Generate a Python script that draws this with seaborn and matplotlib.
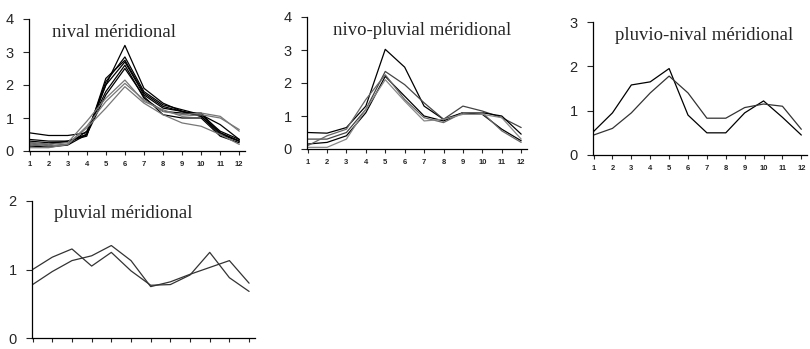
import matplotlib
matplotlib.use("Agg")
import matplotlib.pyplot as plt
import seaborn as sns
import pandas as pd

months = list(range(1, 13))

# nival méridional
nival = [
    [0.55, 0.47, 0.47, 0.55, 2.00, 3.20, 1.90, 1.45, 1.20, 1.10, 0.80, 0.35],
    [0.35, 0.30, 0.30, 0.50, 2.10, 2.85, 1.80, 1.40, 1.25, 1.10, 0.60, 0.35],
    [0.30, 0.25, 0.28, 0.50, 2.00, 2.70, 1.70, 1.30, 1.20, 1.05, 0.50, 0.30],
    [0.20, 0.15, 0.20, 0.60, 1.80, 2.60, 1.60, 1.20, 1.15, 1.15, 0.55, 0.30],
    [0.15, 0.12, 0.18, 0.50, 1.70, 2.50, 1.65, 1.10, 1.00, 1.00, 0.45, 0.25],
    [0.25, 0.20, 0.30, 0.45, 2.20, 2.75, 1.75, 1.35, 1.20, 1.05, 0.55, 0.30],
    [0.25, 0.20, 0.25, 0.90, 1.60, 2.15, 1.50, 1.25, 1.05, 1.10, 1.00, 0.65],
    [0.20, 0.15, 0.20, 0.70, 1.30, 1.95, 1.45, 1.10, 0.85, 0.75, 0.50, 0.20],
    [0.10, 0.10, 0.20, 0.75, 1.50, 2.05, 1.55, 1.20, 1.10, 1.15, 1.05, 0.60],
]
nival_colors = ["black"] * 6 + ["#777777"] * 3

# nivo-pluvial méridional
nivo_pluvial = [
    [0.50, 0.48, 0.65, 1.30, 3.02, 2.48, 1.30, 0.90, 1.10, 1.05, 0.60, 0.25],
    [0.30, 0.30, 0.50, 1.20, 2.35, 1.95, 1.40, 0.90, 1.30, 1.15, 0.95, 0.65],
    [0.15, 0.20, 0.40, 1.10, 2.20, 1.60, 1.00, 0.85, 1.10, 1.10, 1.00, 0.45],
    [0.10, 0.40, 0.60, 1.50, 2.25, 1.50, 0.95, 0.80, 1.10, 1.10, 0.55, 0.20],
    [0.05, 0.05, 0.30, 1.20, 2.10, 1.45, 0.85, 0.90, 1.05, 1.05, 0.95, 0.30],
]
nivo_pluvial_colors = ["black", "#444444", "black", "#666666", "#888888"]

# pluvio-nival méridional
pluvio_nival = [
    [0.53, 0.95, 1.58, 1.65, 1.95, 0.90, 0.50, 0.50, 0.95, 1.22, 0.85, 0.45],
    [0.45, 0.60, 0.95, 1.40, 1.78, 1.40, 0.83, 0.83, 1.07, 1.15, 1.10, 0.58],
]
pluvio_nival_colors = ["black", "#333333"]

# pluvial méridional
pluvial = [
    [1.00, 1.18, 1.30, 1.05, 1.25, 0.98, 0.77, 0.78, 0.92, 1.25, 0.88, 0.68],
    [0.78, 0.97, 1.13, 1.20, 1.35, 1.13, 0.75, 0.82, 0.93, 1.03, 1.13, 0.80],
]
pluvial_colors = ["#333333", "#333333"]

sns.set_style("ticks")
plt.rcParams["font.family"] = ["Liberation Sans", "DejaVu Sans"]

fig = plt.figure(figsize=(8.1, 3.49), dpi=100)
W, H = 810.0, 349.0


def make_ax(left, right, top, bottom):
    return fig.add_axes([left / W, 1 - bottom / H, (right - left) / W, (bottom - top) / H])


panels = [
    (make_ax(29, 245, 19, 151), nival, nival_colors, "nival méridional", 4, True, (0.105, 0.90)),
    (make_ax(307, 527, 17, 149), nivo_pluvial, nivo_pluvial_colors, "nivo-pluvial méridional", 4, True, (0.12, 0.90)),
    (make_ax(593, 807, 22, 155), pluvio_nival, pluvio_nival_colors, "pluvio-nival méridional", 3, True, (0.105, 0.895)),
    (make_ax(32, 255, 201, 338), pluvial, pluvial_colors, "pluvial méridional", 2, False, (0.10, 0.91)),
]

for ax, series, colors, title, ymax, xlabels, tpos in panels:
    for vals, c in zip(series, colors):
        df = pd.DataFrame({"mois": months, "q": vals})
        sns.lineplot(data=df, x="mois", y="q", color=c, linewidth=0.9, ax=ax)
    ax.set_xlim(0.97, 12.3)
    ax.set_ylim(0, ymax)
    ax.set_xticks(months)
    ax.set_yticks(range(0, ymax + 1))
    if xlabels:
        ax.set_xticklabels([str(m) for m in months], fontsize=5.5, fontweight="bold")
    else:
        ax.set_xticklabels([])
    ax.tick_params(axis="x", length=3, width=0.8, pad=4)
    ax.tick_params(axis="y", length=4, width=0.8, pad=7, labelsize=10.5)
    ax.set_xlabel("")
    ax.set_ylabel("")
    sns.despine(ax=ax)
    for s in ["left", "bottom"]:
        ax.spines[s].set_color("black")
        ax.spines[s].set_linewidth(0.9)
    ax.text(tpos[0], tpos[1], title, transform=ax.transAxes, family="Liberation Serif",
            fontsize=13.5, ha="left", va="center")

fig.savefig("out.png", dpi=100)
